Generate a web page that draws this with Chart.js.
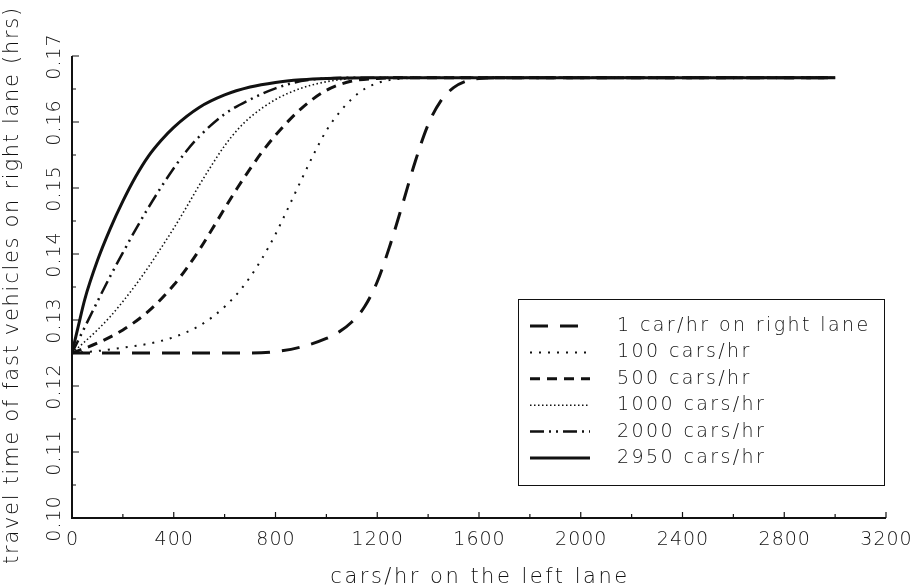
<!DOCTYPE html>
<html>
<head>
<meta charset="utf-8">
<script src="https://cdn.jsdelivr.net/npm/chart.js@4.4.1/dist/chart.umd.min.js"></script>
<style>
html,body{margin:0;padding:0;background:#fff;}
#wrap{width:921px;height:588px;position:relative;}
</style>
</head>
<body>
<div id="wrap"><canvas id="c" width="921" height="588"></canvas></div>
<script>
// ---- data ----
const seriesLabels = ["1 car/hr on right lane","100 cars/hr","500 cars/hr","1000 cars/hr","2000 cars/hr","2950 cars/hr"];

const car1X = [0,400,700,800,900,1000,1050,1100,1150,1200,1250,1300,1350,1400,1450,1500,1550,1600,1700,3000];
const car1Y = [0.125,0.125,0.125,0.1252,0.1259,0.1272,0.1282,0.1297,0.1320,0.1358,0.1413,0.1476,0.1541,0.1596,0.1632,0.1652,0.1662,0.1666,0.1667,0.1667];

const car100X = [0,100,200,300,400,500,550,600,650,700,750,800,850,900,950,1000,1050,1100,1150,1200,1300,1400,3000];
const car100Y = [0.125,0.1253,0.1258,0.1264,0.1274,0.1291,0.1304,0.1320,0.1340,0.1365,0.1395,0.1430,0.1470,0.1511,0.1551,0.1587,0.1614,0.1635,0.1650,0.1659,0.1666,0.1667,0.1667];

const car500X = [0,100,200,300,400,450,500,550,600,650,700,750,800,900,1000,1100,1200,1300,3000];
const car500Y = [0.125,0.1265,0.1285,0.1313,0.1353,0.1378,0.1406,0.1437,0.1469,0.1500,0.1529,0.1556,0.1580,0.1620,0.1648,0.1662,0.1666,0.1667,0.1667];

const car1000X = [0,50,100,150,200,250,300,350,400,450,500,550,600,650,700,800,900,1000,1100,1200,3000];
const car1000Y = [0.125,0.1267,0.1285,0.1305,0.1328,0.1353,0.1380,0.1409,0.1439,0.1471,0.1504,0.1535,0.1564,0.1588,0.1607,0.1634,0.1651,0.1661,0.1666,0.1667,0.1667];

const car2000X = [0,50,100,150,200,250,300,350,400,450,500,600,700,800,900,1000,1100,3000];
const car2000Y = [0.125,0.1289,0.1328,0.1366,0.1402,0.1437,0.1470,0.1501,0.1530,0.1556,0.1578,0.1612,0.1634,0.1651,0.1662,0.1666,0.1667,0.1667];

const car2950X = [0,25,50,100,150,200,250,300,350,400,500,600,700,800,900,1000,1200,3000];
const car2950Y = [0.125,0.1291,0.1331,0.1390,0.1438,0.1480,0.1517,0.1548,0.1572,0.1592,0.1622,0.1641,0.1653,0.1660,0.1664,0.1666,0.1667,0.1667];

const xTickLabels = [0,400,800,1200,1600,2000,2400,2800,3200];
const xMinorTicks = [200,600,1000,1400,1800,2200,2600,3000];
const yTickLabels = ["0.10","0.11","0.12","0.13","0.14","0.15","0.16","0.17"];
const yMinorTicks = [0.105,0.115,0.125,0.135,0.145,0.155,0.165];

const xTitle = "cars/hr on the left lane";
const yTitle = "travel time of fast vehicles on right lane (hrs)";

// ---- styles ----
const FONT_FAMILY = '"DejaVu Sans", sans-serif';
const INK = '#111';
const styles = [
  {width:3,   dash:[18,12]},
  {width:2,   dash:[2,7]},
  {width:3,   dash:[10,7]},
  {width:1.6, dash:[1.5,2.5]},
  {width:2.5, dash:[14,5,2,5,2,5]},
  {width:3,   dash:[]}
];

function pts(xs, ys){ return xs.map((x,i)=>({x:x, y:ys[i]})); }
const allX = [car1X,car100X,car500X,car1000X,car2000X,car2950X];
const allY = [car1Y,car100Y,car500Y,car1000Y,car2000Y,car2950Y];

const datasets = seriesLabels.map((lab,i)=>({
  label: lab,
  data: pts(allX[i], allY[i]),
  borderColor: INK,
  borderWidth: styles[i].width,
  borderDash: styles[i].dash,
  borderCapStyle: 'butt',
  pointRadius: 0,
  fill: false,
  cubicInterpolationMode: 'monotone'
}));

function spaced(ctx, px){ try { ctx.letterSpacing = px + 'px'; } catch(e){} }

const decor = {
  id: 'decor',
  afterDraw(chart){
    const ctx = chart.ctx;
    const xs = chart.scales.x, ys = chart.scales.y;
    const a = chart.chartArea;
    ctx.save();
    ctx.strokeStyle = INK; ctx.fillStyle = INK;
    // axes
    ctx.lineWidth = 2;
    ctx.beginPath();
    ctx.moveTo(a.left, a.top); ctx.lineTo(a.left, a.bottom); ctx.lineTo(a.right, a.bottom);
    ctx.stroke();
    // ticks (inward)
    ctx.lineWidth = 1.2;
    ctx.beginPath();
    xTickLabels.forEach(v=>{ const px = xs.getPixelForValue(v); ctx.moveTo(px, a.bottom); ctx.lineTo(px, a.bottom-6); });
    xMinorTicks.forEach(v=>{ const px = xs.getPixelForValue(v); ctx.moveTo(px, a.bottom); ctx.lineTo(px, a.bottom-4); });
    yTickLabels.forEach(s=>{ const py = ys.getPixelForValue(parseFloat(s)); ctx.moveTo(a.left, py); ctx.lineTo(a.left+7, py); });
    yMinorTicks.forEach(v=>{ const py = ys.getPixelForValue(v); ctx.moveTo(a.left, py); ctx.lineTo(a.left+4, py); });
    ctx.stroke();
    // x tick labels
    ctx.font = '200 19px ' + FONT_FAMILY;
    spaced(ctx, 1);
    ctx.textAlign = 'center'; ctx.textBaseline = 'middle';
    xTickLabels.forEach(v=>{ ctx.fillText(String(v), xs.getPixelForValue(v) + 0.5, a.bottom + 22); });
    // y tick labels (rotated)
    yTickLabels.forEach(s=>{
      const py = ys.getPixelForValue(parseFloat(s));
      ctx.save(); ctx.translate(a.left - 17, py + 0.5); ctx.rotate(-Math.PI/2);
      ctx.fillText(s, 0, 0); ctx.restore();
    });
    // titles
    ctx.font = '200 21px ' + FONT_FAMILY;
    spaced(ctx, 2.5);
    ctx.fillText(xTitle, (a.left + a.right)/2 + 1, a.bottom + 60);
    spaced(ctx, 1.7);
    ctx.save(); ctx.translate(13, (a.top + a.bottom)/2 - 2); ctx.rotate(-Math.PI/2);
    ctx.fillText(yTitle, 0, 0); ctx.restore();
    // legend box
    const bx = 518, by = 299, bw = 366, bh = 186;
    ctx.lineWidth = 1;
    ctx.strokeRect(bx+0.5, by+0.5, bw, bh);
    ctx.font = '200 19px ' + FONT_FAMILY;
    spaced(ctx, 2.4);
    ctx.textAlign = 'left';
    chart.data.datasets.forEach((ds,i)=>{
      const ry = by + 27 + i*26.4;
      ctx.save();
      ctx.lineWidth = ds.borderWidth;
      ctx.setLineDash(ds.borderDash);
      ctx.beginPath(); ctx.moveTo(bx+12, ry); ctx.lineTo(bx+72, ry); ctx.stroke();
      ctx.restore();
      ctx.fillText(ds.label, bx + 99, ry);
    });
    ctx.restore();
  }
};

new Chart(document.getElementById('c'), {
  type: 'line',
  data: { datasets: datasets },
  options: {
    responsive: false,
    animation: false,
    layout: { padding: { left: 72, right: 35, top: 56, bottom: 70 } },
    plugins: { legend: { display: false }, tooltip: { enabled: false } },
    scales: {
      x: { type: 'linear', min: 0, max: 3200, display: false },
      y: { type: 'linear', min: 0.10, max: 0.17, display: false }
    }
  },
  plugins: [decor]
});
</script>
</body>
</html>
